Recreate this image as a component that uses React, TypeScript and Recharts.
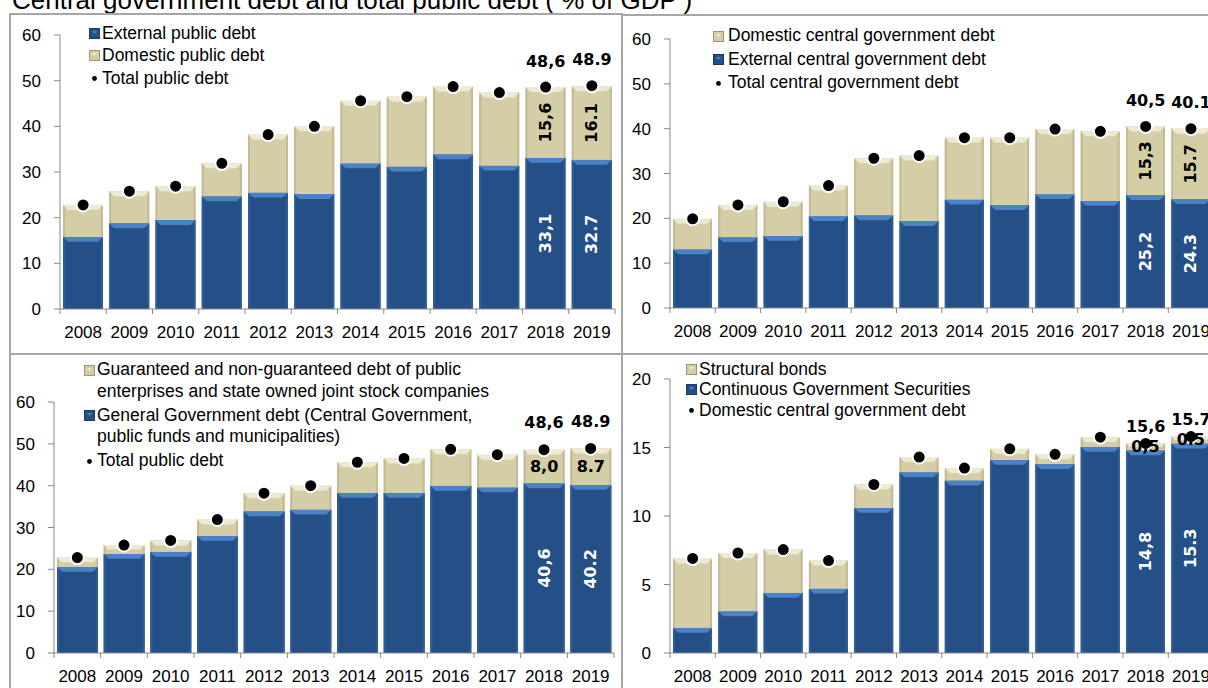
import { Bar, ComposedChart, LabelList, Legend, Line, XAxis, YAxis } from 'recharts';

const FONT = '"Liberation Sans", Arial, sans-serif';
const BOLD_FONT = '"DejaVu Sans", Verdana, sans-serif';
const AXIS = '#898989';
const FRAME = '#a6a6a6';
const BLUE = '#254f87';
const BLUE_TOP = '#4a82c5';
const BLUE_EDGE = '#2d5b96';
const BEIGE = '#d4cda6';
const BEIGE_TOP = '#eee9d1';
const BEIGE_EDGE = '#c3bb95';

const years = ['2008', '2009', '2010', '2011', '2012', '2013', '2014', '2015', '2016', '2017', '2018', '2019'];

// top left: external / domestic public debt
const externalPublicDebt = [15.8, 18.8, 19.5, 24.7, 25.5, 25.2, 31.9, 31.2, 33.9, 31.4, 33.1, 32.7];
const domesticPublicDebt = [7.0, 7.0, 7.4, 7.2, 12.7, 14.8, 13.7, 15.3, 14.8, 16.0, 15.5, 16.1];
const totalPublicDebt = [22.8, 25.8, 26.9, 31.9, 38.2, 40.0, 45.6, 46.5, 48.7, 47.4, 48.6, 48.9];
const totalPublicLabels = ['', '', '', '', '', '', '', '', '', '', '48,6', '48.9'];
const domesticPublicLabels = ['', '', '', '', '', '', '', '', '', '', '15,6', '16.1'];
const externalPublicLabels = ['', '', '', '', '', '', '', '', '', '', '33,1', '32.7'];

// top right: central government debt
const externalCentralDebt = [13.1, 15.8, 16.1, 20.5, 20.7, 19.4, 24.2, 23.0, 25.4, 23.9, 25.2, 24.3];
const domesticCentralDebt = [6.8, 7.2, 7.6, 6.8, 12.7, 14.6, 13.8, 15.0, 14.5, 15.5, 15.3, 15.7];
const totalCentralDebt = [19.9, 23.0, 23.7, 27.3, 33.4, 34.0, 38.0, 38.0, 39.9, 39.4, 40.5, 40.0];
const totalCentralLabels = ['', '', '', '', '', '', '', '', '', '', '40,5', '40.1'];
const domesticCentralLabels = ['', '', '', '', '', '', '', '', '', '', '15,3', '15.7'];
const externalCentralLabels = ['', '', '', '', '', '', '', '', '', '', '25,2', '24.3'];

// bottom left: general government vs public enterprises
const generalGovDebt = [20.6, 23.7, 24.2, 28.0, 33.9, 34.3, 38.3, 38.3, 40.0, 39.6, 40.6, 40.2];
const enterpriseDebt = [2.2, 2.1, 2.7, 3.9, 4.3, 5.7, 7.3, 8.2, 8.7, 7.8, 8.0, 8.7];
const enterpriseLabels = ['', '', '', '', '', '', '', '', '', '', '8,0', '8.7'];
const generalGovLabels = ['', '', '', '', '', '', '', '', '', '', '40,6', '40.2'];

// bottom right: domestic central government debt by instrument
const continuousSecurities = [1.85, 3.05, 4.4, 4.7, 10.6, 13.2, 12.6, 14.1, 13.8, 15.05, 14.8, 15.3];
const structuralBonds = [5.05, 4.25, 3.15, 2.05, 1.7, 1.1, 0.9, 0.8, 0.7, 0.7, 0.5, 0.5];
const domesticCentralTotal = [6.9, 7.3, 7.55, 6.75, 12.3, 14.3, 13.5, 14.9, 14.5, 15.75, 15.3, 15.8];
const domesticCentralTotalLabels = ['', '', '', '', '', '', '', '', '', '', '15,6', '15.7'];
const structuralLabels = ['', '', '', '', '', '', '', '', '', '', '0,5', '0.5'];
const continuousLabels = ['', '', '', '', '', '', '', '', '', '', '14,8', '15.3'];

const ticks60 = [0, 10, 20, 30, 40, 50, 60];
const ticks20 = [0, 5, 10, 15, 20];

type LegendItem = { kind: 'blue' | 'beige' | 'dot'; lines: string[] };

function bevelShape(main: string, light: string, edge: string) {
  return (props: any) => {
    const { x, y, width, height } = props;
    if (!height || height <= 0 || !width) return <g />;
    const b = Math.min(5, height / 2);
    const s = Math.min(2, width / 4);
    return (
      <g>
        <rect x={x} y={y} width={width} height={height} fill={main} />
        <rect x={x} y={y} width={s} height={height} fill={edge} />
        <rect x={x + width - s} y={y} width={s} height={height} fill={edge} />
        <polygon
          points={`${x},${y} ${x + width},${y} ${x + width - b},${y + b} ${x + b},${y + b}`}
          fill={light}
        />
      </g>
    );
  };
}

const blueShape = bevelShape(BLUE, BLUE_TOP, BLUE_EDGE);
const beigeShape = bevelShape(BEIGE, BEIGE_TOP, BEIGE_EDGE);

function box(p: any) {
  const vb = p.viewBox && typeof p.viewBox.x === 'number' ? p.viewBox : p;
  return { x: Number(vb.x), y: Number(vb.y), w: Number(vb.width ?? 0), h: Number(vb.height ?? 0) };
}

function segmentLabel(color: string, rotated: boolean) {
  return (p: any) => {
    if (!p.value) return null;
    const { x, y, w, h } = box(p);
    const cx = x + w / 2;
    const cy = y + h / 2;
    return (
      <text
        x={cx}
        y={cy}
        transform={rotated ? `rotate(-90 ${cx} ${cy})` : undefined}
        textAnchor="middle"
        dominantBaseline="central"
        fill={color}
        fontFamily={BOLD_FONT}
        fontWeight={700}
        fontSize={16}
      >
        {p.value}
      </text>
    );
  };
}

function topLabel(offset: number) {
  return (p: any) => {
    if (!p.value) return null;
    const { x, y } = box(p);
    return (
      <text
        x={x}
        y={y - offset}
        textAnchor="middle"
        dominantBaseline="central"
        fill="#000"
        fontFamily={BOLD_FONT}
        fontWeight={700}
        fontSize={16}
      >
        {p.value}
      </text>
    );
  };
}

function YearTick({ x, payload, index, axisY, half }: any) {
  return (
    <g>
      <line x1={x - half} x2={x - half} y1={axisY} y2={axisY + 5} stroke={AXIS} />
      {index === years.length - 1 && (
        <line x1={x + half} x2={x + half} y1={axisY} y2={axisY + 5} stroke={AXIS} />
      )}
      <text x={x} y={axisY + 29} textAnchor="middle" fill="#000" fontFamily={FONT} fontSize={17}>
        {payload.value}
      </text>
    </g>
  );
}

function LegendIcon({ kind }: { kind: LegendItem['kind'] }) {
  if (kind === 'dot') {
    return (
      <svg width={11} height={11} style={{ display: 'block' }}>
        <circle cx={5.5} cy={5.5} r={2.4} fill="#000" />
      </svg>
    );
  }
  const main = kind === 'blue' ? BLUE : BEIGE;
  const light = kind === 'blue' ? BLUE_TOP : BEIGE_TOP;
  const edge = kind === 'blue' ? '#1b3b66' : '#9e9672';
  return (
    <svg width={11} height={11} style={{ display: 'block' }}>
      <rect x={0.5} y={0.5} width={10} height={10} fill={main} stroke={edge} />
      <polygon points="3,3 8,3 5.5,6" fill={light} />
    </svg>
  );
}

function LegendBox({ items, lineHeight, gap, iconCol }: any) {
  return (
    <div
      style={{
        fontFamily: FONT,
        fontSize: 17.5,
        color: '#000',
        lineHeight: `${lineHeight}px`,
        whiteSpace: 'nowrap',
      }}
    >
      {items.map((it: LegendItem, i: number) => (
        <div key={i} style={{ display: 'flex', marginBottom: gap }}>
          <div style={{ width: iconCol, flex: 'none', paddingTop: (lineHeight - 11) / 2 }}>
            <LegendIcon kind={it.kind} />
          </div>
          <div>
            {it.lines.map((l) => (
              <div key={l}>{l}</div>
            ))}
          </div>
        </div>
      ))}
    </div>
  );
}

interface PanelProps {
  left: number;
  top: number;
  width: number;
  height: number;
  margin: { top: number; right: number; bottom: number; left: number };
  yWidth: number;
  domain: [number, number];
  ticks: number[];
  lower: number[];
  upper: number[];
  total: number[];
  lowerLabels: string[];
  upperLabels: string[];
  topLabels: string[];
  upperRotated: boolean;
  topOffset: number;
  legend: LegendItem[];
  legendLeft: number;
  legendTop: number;
  legendLine: number;
  legendGap: number;
  iconCol: number;
}

function DebtPanel(p: PanelProps) {
  const rows = years.map((year, i) => ({
    year,
    lower: p.lower[i],
    upper: p.upper[i],
    total: p.total[i],
    lowerLabel: p.lowerLabels[i],
    upperLabel: p.upperLabels[i],
    topLabel: p.topLabels[i],
  }));
  const axisY = p.height - p.margin.bottom - 30;
  const plotW = p.width - p.margin.left - p.margin.right - p.yWidth;
  const half = plotW / years.length / 2;

  return (
    <div style={{ position: 'absolute', left: p.left, top: p.top }}>
      <ComposedChart width={p.width} height={p.height} data={rows} margin={p.margin} barCategoryGap={3}>
        <XAxis
          dataKey="year"
          interval={0}
          height={30}
          tickLine={false}
          axisLine={{ stroke: AXIS }}
          tick={(t: any) => <YearTick {...t} axisY={axisY} half={half} />}
        />
        <YAxis
          width={p.yWidth}
          domain={p.domain}
          ticks={p.ticks}
          interval={0}
          tickSize={6}
          tickMargin={13}
          axisLine={{ stroke: AXIS }}
          tickLine={{ stroke: AXIS }}
          tick={{ fill: '#000', fontSize: 17, fontFamily: FONT }}
        />
        <Legend
          layout="vertical"
          align="center"
          verticalAlign="middle"
          wrapperStyle={{ left: p.legendLeft, top: p.legendTop, width: 520 }}
          content={() => (
            <LegendBox items={p.legend} lineHeight={p.legendLine} gap={p.legendGap} iconCol={p.iconCol} />
          )}
        />
        <Bar dataKey="lower" stackId="s" shape={blueShape} isAnimationActive={false}>
          <LabelList dataKey="lowerLabel" content={segmentLabel('#fff', true)} />
        </Bar>
        <Bar dataKey="upper" stackId="s" shape={beigeShape} isAnimationActive={false}>
          <LabelList dataKey="upperLabel" content={segmentLabel('#000', p.upperRotated)} />
        </Bar>
        <Line
          dataKey="total"
          stroke="none"
          legendType="none"
          dot={{ r: 6.5, fill: '#000', stroke: '#fff', strokeWidth: 2 }}
          activeDot={false}
          isAnimationActive={false}
        >
          <LabelList dataKey="topLabel" content={topLabel(p.topOffset)} />
        </Line>
      </ComposedChart>
    </div>
  );
}

export default function App() {
  return (
    <div
      style={{
        position: 'absolute',
        left: 0,
        top: 0,
        width: 1208,
        height: 688,
        overflow: 'hidden',
        background: '#fff',
        fontFamily: FONT,
      }}
    >
      <div
        style={{
          position: 'absolute',
          left: 12,
          top: -13.5,
          fontSize: 26,
          lineHeight: '26px',
          whiteSpace: 'nowrap',
          color: '#000',
        }}
      >
        Central government debt and total public debt ( % of GDP )
      </div>

      {/* panel frames */}
      <div style={{ position: 'absolute', left: 9, top: 13, width: 2, height: 675, background: FRAME }} />
      <div style={{ position: 'absolute', left: 9, top: 13, width: 613, height: 2, background: FRAME }} />
      <div style={{ position: 'absolute', left: 622, top: 14, width: 586, height: 2, background: FRAME }} />
      <div style={{ position: 'absolute', left: 621, top: 13, width: 2, height: 675, background: FRAME }} />
      <div style={{ position: 'absolute', left: 9, top: 353, width: 1199, height: 2, background: FRAME }} />

      <DebtPanel
        left={0}
        top={0}
        width={622}
        height={350}
        margin={{ top: 35, right: 7, bottom: 11, left: 0 }}
        yWidth={60}
        domain={[0, 60]}
        ticks={ticks60}
        lower={externalPublicDebt}
        upper={domesticPublicDebt}
        total={totalPublicDebt}
        lowerLabels={externalPublicLabels}
        upperLabels={domesticPublicLabels}
        topLabels={totalPublicLabels}
        upperRotated
        topOffset={26}
        legend={[
          { kind: 'blue', lines: ['External public debt'] },
          { kind: 'beige', lines: ['Domestic public debt'] },
          { kind: 'dot', lines: ['Total public debt'] },
        ]}
        legendLeft={89}
        legendTop={21.75}
        legendLine={22.5}
        legendGap={0}
        iconCol={13}
      />

      <DebtPanel
        left={622}
        top={0}
        width={600}
        height={350}
        margin={{ top: 39, right: 8.4, bottom: 12, left: 0 }}
        yWidth={48}
        domain={[0, 60]}
        ticks={ticks60}
        lower={externalCentralDebt}
        upper={domesticCentralDebt}
        total={totalCentralDebt}
        lowerLabels={externalCentralLabels}
        upperLabels={domesticCentralLabels}
        topLabels={totalCentralLabels}
        upperRotated
        topOffset={26}
        legend={[
          { kind: 'beige', lines: ['Domestic central government debt'] },
          { kind: 'blue', lines: ['External central government debt'] },
          { kind: 'dot', lines: ['Total central government debt'] },
        ]}
        legendLeft={91}
        legendTop={24.25}
        legendLine={23.5}
        legendGap={0}
        iconCol={15}
      />

      <DebtPanel
        left={0}
        top={356}
        width={622}
        height={332}
        margin={{ top: 46, right: 8, bottom: 5, left: 0 }}
        yWidth={54}
        domain={[0, 60]}
        ticks={ticks60}
        lower={generalGovDebt}
        upper={enterpriseDebt}
        total={totalPublicDebt}
        lowerLabels={generalGovLabels}
        upperLabels={enterpriseLabels}
        topLabels={totalPublicLabels}
        upperRotated={false}
        topOffset={27}
        legend={[
          {
            kind: 'beige',
            lines: [
              'Guaranteed and non-guaranteed debt of public',
              'enterprises and state owned joint stock companies',
            ],
          },
          {
            kind: 'blue',
            lines: ['General Government debt (Central Government,', 'public funds and municipalities)'],
          },
          { kind: 'dot', lines: ['Total public debt'] },
        ]}
        legendLeft={84}
        legendTop={3.25}
        legendLine={21.5}
        legendGap={2.5}
        iconCol={13}
      />

      <DebtPanel
        left={622}
        top={356}
        width={600}
        height={332}
        margin={{ top: 23, right: 8.4, bottom: 5, left: 0 }}
        yWidth={48}
        domain={[0, 20]}
        ticks={ticks20}
        lower={continuousSecurities}
        upper={structuralBonds}
        total={domesticCentralTotal}
        lowerLabels={continuousLabels}
        upperLabels={structuralLabels}
        topLabels={domesticCentralTotalLabels}
        upperRotated={false}
        topOffset={17}
        legend={[
          { kind: 'beige', lines: ['Structural bonds'] },
          { kind: 'blue', lines: ['Continuous Government Securities'] },
          { kind: 'dot', lines: ['Domestic central government debt'] },
        ]}
        legendLeft={64}
        legendTop={2.75}
        legendLine={20.5}
        legendGap={0}
        iconCol={13}
      />
    </div>
  );
}
